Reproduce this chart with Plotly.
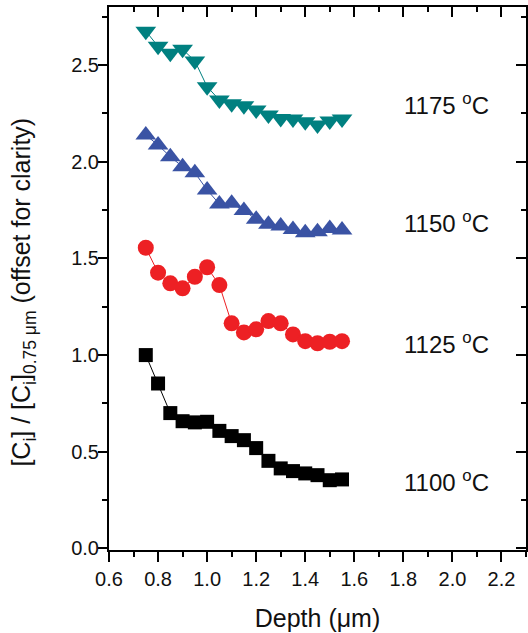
import plotly.graph_objects as go

depth = [0.75, 0.80, 0.85, 0.90, 0.95, 1.00, 1.05, 1.10, 1.15, 1.20, 1.25, 1.30, 1.35, 1.40, 1.45, 1.50, 1.55]

c1100 = [1.00, 0.853, 0.70, 0.658, 0.652, 0.655, 0.608, 0.581, 0.56, 0.519, 0.453, 0.414, 0.40, 0.388, 0.379, 0.353, 0.357]
c1125 = [1.555, 1.426, 1.371, 1.345, 1.405, 1.454, 1.362, 1.164, 1.117, 1.133, 1.176, 1.164, 1.107, 1.072, 1.061, 1.069, 1.072]
c1150 = [2.138, 2.086, 2.026, 1.974, 1.943, 1.854, 1.781, 1.785, 1.747, 1.702, 1.676, 1.667, 1.650, 1.633, 1.638, 1.655, 1.647]
c1175 = [2.675, 2.597, 2.561, 2.581, 2.521, 2.388, 2.319, 2.300, 2.289, 2.267, 2.242, 2.224, 2.221, 2.207, 2.190, 2.211, 2.221]

labels = ["1100 <sup>o</sup>C", "1125 <sup>o</sup>C", "1150 <sup>o</sup>C", "1175 <sup>o</sup>C"]
label_x = [1.977, 1.977, 1.977, 1.977]
label_y = [0.35, 1.06, 1.69, 2.30]

FONT = "Liberation Sans, Arial, sans-serif"

series = [
    (c1100, "square", "#000000", 14),
    (c1125, "circle", "#ED2024", 16),
    (c1150, "triangle-up", "#3A53A4", 18),
    (c1175, "triangle-down", "#008080", 18),
]

fig = go.Figure()
for vals, sym, col, sz in series:
    fig.add_trace(go.Scatter(
        x=depth, y=vals, mode="lines+markers",
        line=dict(color=col, width=1),
        marker=dict(symbol=sym, size=sz, color=col, line=dict(width=0)),
        showlegend=False, hoverinfo="skip"))

# empty traces so the mirrored top / right axes are drawn
fig.add_trace(go.Scatter(x=[], y=[], xaxis="x2", yaxis="y", showlegend=False, hoverinfo="skip"))
fig.add_trace(go.Scatter(x=[], y=[], xaxis="x", yaxis="y2", showlegend=False, hoverinfo="skip"))

for t, xv, yv in zip(labels, label_x, label_y):
    fig.add_annotation(x=xv, y=yv, text=t, showarrow=False, xanchor="center", yanchor="middle",
                       font=dict(size=24, color="#111111", family=FONT))

fig.add_annotation(xref="paper", yref="paper", x=-0.205, y=0.475, textangle=-90,
                   text="[C<sub>i</sub>] / [C<sub>i</sub>]<sub>0.75 \u03bcm</sub> (offset for clarity)",
                   showarrow=False, xanchor="center", yanchor="middle",
                   font=dict(size=25, color="#111111", family=FONT))

axcommon = dict(showgrid=False, zeroline=False, showline=True, linecolor="black", linewidth=2,
                tickcolor="black", tickwidth=2)

fig.update_layout(
    width=528, height=633,
    margin=dict(l=109, r=2, t=7, b=83),
    paper_bgcolor="white", plot_bgcolor="white",
    font=dict(family=FONT, size=20, color="#111111"),
    xaxis=dict(range=[0.6, 2.3], dtick=0.2, tick0=0.6, tickformat=".1f", ticks="outside", ticklen=10,
               minor=dict(dtick=0.1, ticks="outside", ticklen=5, tickcolor="black", tickwidth=2),
               title=dict(text="Depth (\u03bcm)", font=dict(size=25), standoff=20),
               **axcommon),
    yaxis=dict(range=[-0.008, 2.8], dtick=0.5, tick0=0, tickformat=".1f", ticks="outside", ticklen=9,
               ticklabelstandoff=-5,
               minor=dict(dtick=0.25, ticks="outside", ticklen=5, tickcolor="black", tickwidth=2),
               **axcommon),
    xaxis2=dict(range=[0.6, 2.3], dtick=0.2, tick0=0.6, overlaying="x", side="top", anchor="y",
                ticks="inside", ticklen=10, showticklabels=False,
                minor=dict(dtick=0.1, ticks="inside", ticklen=5, tickcolor="black", tickwidth=2),
                **axcommon),
    yaxis2=dict(range=[-0.008, 2.8], dtick=0.5, tick0=0, overlaying="y", side="right", anchor="x",
                ticks="inside", ticklen=10, showticklabels=False,
                minor=dict(dtick=0.25, ticks="inside", ticklen=5, tickcolor="black", tickwidth=2),
                **axcommon),
)

fig.write_html("out.html")
